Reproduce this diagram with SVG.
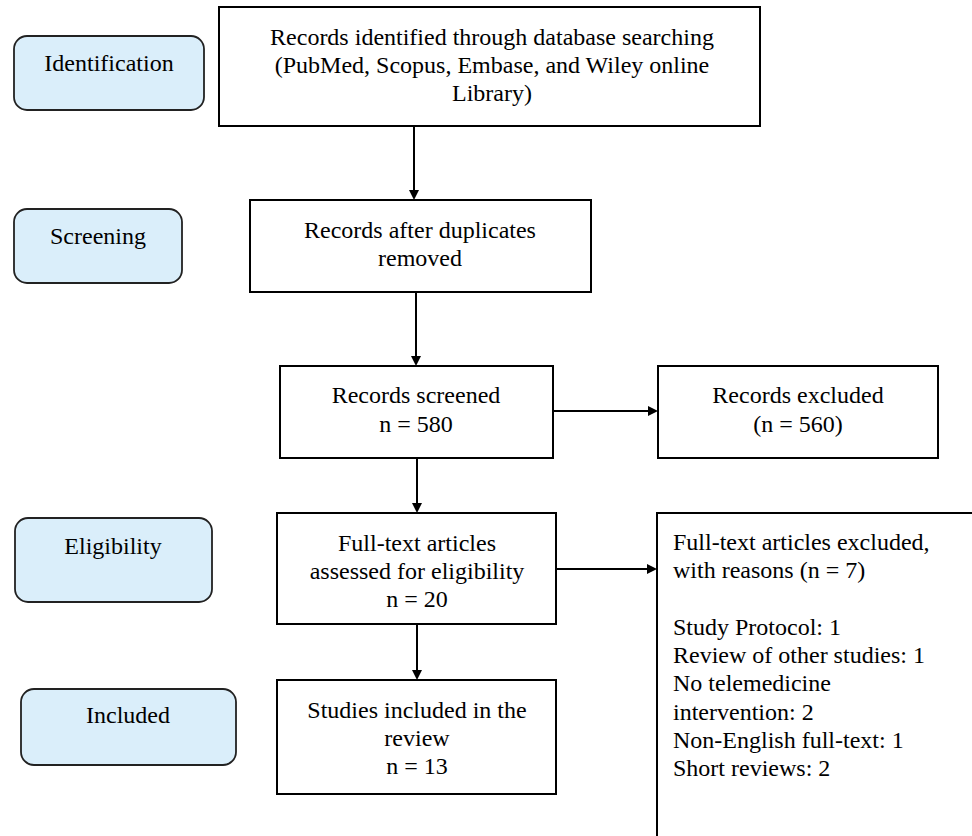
<svg xmlns="http://www.w3.org/2000/svg" width="972" height="836" viewBox="0 0 972 836">
<style>
  text { font-family: "Liberation Serif", "Times New Roman", serif; font-size: 24px; fill: #000; }
  .c { text-anchor: middle; }
  .box { fill: #fff; stroke: #000; stroke-width: 2; }
  .stage { fill: #DAEEFA; stroke: #222; stroke-width: 1.8; }
  .conn line { stroke: #000; stroke-width: 2; marker-end: url(#ah); }
</style>
<defs>
  <marker id="ah" viewBox="0 0 10 10" refX="0" refY="5" markerWidth="10" markerHeight="11" orient="auto" markerUnits="userSpaceOnUse">
    <path d="M0,0 L10,5 L0,10 z" fill="#000"/>
  </marker>
</defs>
<rect width="972" height="836" fill="#fff"/>

<g id="stage-identification">
  <rect class="stage" x="14" y="36" width="190" height="74" rx="13"/>
  <text class="c" x="109" y="71">Identification</text>
</g>
<g id="stage-screening">
  <rect class="stage" x="14" y="209" width="168" height="74" rx="13"/>
  <text class="c" x="98" y="244">Screening</text>
</g>
<g id="stage-eligibility">
  <rect class="stage" x="15" y="518" width="197" height="84" rx="13"/>
  <text class="c" x="113" y="554">Eligibility</text>
</g>
<g id="stage-included">
  <rect class="stage" x="21" y="689" width="215" height="76" rx="13"/>
  <text class="c" x="128" y="723">Included</text>
</g>

<g id="identified">
  <rect class="box" x="219" y="7" width="541" height="119"/>
  <text class="c" x="492" y="45">Records identified through database searching</text>
  <text class="c" x="492" y="73">(PubMed, Scopus, Embase, and Wiley online</text>
  <text class="c" x="492" y="101">Library)</text>
</g>
<g id="after-duplicates">
  <rect class="box" x="250" y="200" width="341" height="92"/>
  <text class="c" x="420" y="238">Records after duplicates</text>
  <text class="c" x="420" y="266">removed</text>
</g>
<g id="screened">
  <rect class="box" x="280" y="366" width="273" height="92"/>
  <text class="c" x="416" y="403">Records screened</text>
  <text class="c" x="416" y="432">n = 580</text>
</g>
<g id="excluded">
  <rect class="box" x="658" y="366" width="280" height="92"/>
  <text class="c" x="798" y="403">Records excluded</text>
  <text class="c" x="798" y="432">(n = 560)</text>
</g>
<g id="fulltext">
  <rect class="box" x="277" y="513" width="279" height="111"/>
  <text class="c" x="417" y="551">Full-text articles</text>
  <text class="c" x="417" y="579">assessed for eligibility</text>
  <text class="c" x="417" y="607">n = 20</text>
</g>
<g id="fulltext-excluded">
  <rect class="box" x="657" y="513" width="340" height="340"/>
  <text x="673" y="550">Full-text articles excluded,</text>
  <text x="673" y="578">with reasons (n = 7)</text>
  <text x="673" y="635">Study Protocol: 1</text>
  <text x="673" y="663">Review of other studies: 1</text>
  <text x="673" y="691">No telemedicine</text>
  <text x="673" y="720">intervention: 2</text>
  <text x="673" y="748">Non-English full-text: 1</text>
  <text x="673" y="776">Short reviews: 2</text>
</g>
<g id="included">
  <rect class="box" x="277" y="680" width="279" height="114"/>
  <text class="c" x="417" y="718">Studies included in the</text>
  <text class="c" x="417" y="746">review</text>
  <text class="c" x="417" y="774">n = 13</text>
</g>

<g id="connectors" class="conn">
  <line x1="414" y1="126" x2="414" y2="190"/>
  <line x1="416" y1="292" x2="416" y2="356"/>
  <line x1="553" y1="411" x2="648" y2="411"/>
  <line x1="417" y1="458" x2="417" y2="503"/>
  <line x1="556" y1="569" x2="647" y2="569"/>
  <line x1="417" y1="624" x2="417" y2="670"/>
</g>
</svg>
